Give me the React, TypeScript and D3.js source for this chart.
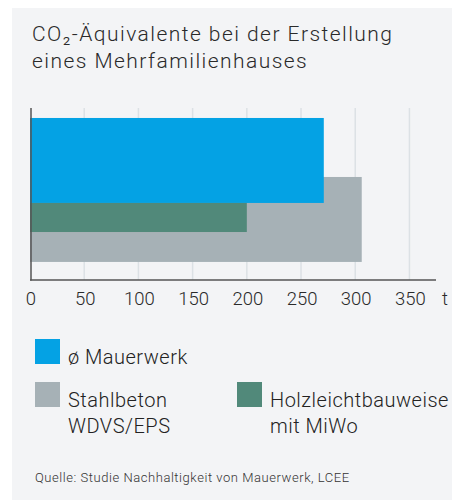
import React from 'react';
import * as d3 from 'd3';

// data
const seriesNames = ['Stahlbeton WDVS/EPS', 'ø Mauerwerk', 'Holzleichtbauweise mit MiWo'];
const seriesValues = [306, 271, 200];
const seriesColors = ['#a6b1b6', '#04a2e4', '#51897a'];
const xTicks = [0, 50, 100, 150, 200, 250, 300, 350];
const unitLabel = 't';
const titleLines = ['CO₂-Äquivalente bei der Erstellung', 'eines Mehrfamilienhauses'];
const sourceText = 'Quelle: Studie Nachhaltigkeit von Mauerwerk, LCEE';

const W = 453;
const H = 501;
const font = 'Roboto, "Open Sans", sans-serif';

const App = () => {
  const plot = { left: 30, right: 436, top: 108, bottom: 280 };
  const x = d3.scaleLinear().domain([0, 374.5]).range([plot.left, plot.right]);
  const y = d3.scaleLinear().domain([0, 1]).range([plot.top, plot.bottom]);

  // vertical slot of each bar as a fraction of the plot height (overlapping layout)
  const slots: Record<string, [number, number]> = {
    'Stahlbeton WDVS/EPS': [0.401, 0.895],
    'ø Mauerwerk': [0.058, 0.552],
    'Holzleichtbauweise mit MiWo': [0.552, 0.721],
  };

  const legend = [
    { name: seriesNames[1], lines: ['ø Mauerwerk'], x: 35, y: 339 },
    { name: seriesNames[0], lines: ['Stahlbeton', 'WDVS/EPS'], x: 35, y: 382 },
    { name: seriesNames[2], lines: ['Holzleichtbauweise', 'mit MiWo'], x: 237, y: 382 },
  ];
  const color = d3.scaleOrdinal<string, string>().domain(seriesNames).range(seriesColors);

  return (
    <svg width={W} height={H} style={{ position: 'absolute', left: 0, top: 0 }} fontFamily={font}>
      <rect x={12} y={8} width={440} height={492} fill="#f3f4f6" />

      {titleLines.map((t, i) => (
        <text key={i} x={32} y={41 + i * 26.5} fontSize={21} fontWeight={300} letterSpacing={1.45} fill="#2a2a2a">
          {t}
        </text>
      ))}

      {/* grid */}
      {xTicks.filter(t => t > 0).map(t => (
        <line key={t} x1={x(t)} x2={x(t)} y1={plot.top} y2={plot.bottom} stroke="#dce1e5" strokeWidth={1.5} />
      ))}

      {/* bars */}
      {seriesNames.map((name, i) => (
        <rect
          key={name}
          x={x(0)}
          y={y(slots[name][0])}
          width={x(seriesValues[i]) - x(0)}
          height={y(slots[name][1]) - y(slots[name][0])}
          fill={color(name)}
        />
      ))}

      {/* axes */}
      <line x1={plot.left + 1} x2={plot.left + 1} y1={plot.top} y2={plot.bottom + 0.5} stroke="#555" strokeWidth={1.5} />
      <line x1={plot.left} x2={plot.right} y1={plot.bottom} y2={plot.bottom} stroke="#555" strokeWidth={1.5} />

      {xTicks.map(t => (
        <text key={t} x={x(t) + 1} y={305} textAnchor="middle" fontSize={18.5} fontWeight={300} fill="#2a2a2a">
          {t}
        </text>
      ))}
      <text x={445} y={305} textAnchor="middle" fontSize={18.5} fontWeight={300} fill="#2a2a2a">
        {unitLabel}
      </text>

      {/* legend */}
      {legend.map(l => (
        <g key={l.name}>
          <rect x={l.x} y={l.y} width={25} height={25} fill={color(l.name)} />
          {l.lines.map((ln, j) => (
            <text key={j} x={l.x + 33} y={l.y + 25 + j * 26} fontSize={20} fontWeight={300} letterSpacing={0.5} fill="#222">
              {ln}
            </text>
          ))}
        </g>
      ))}

      <text x={35} y={482} fontSize={13} fontWeight={300} letterSpacing={0.55} fill="#333">
        {sourceText}
      </text>
    </svg>
  );
};

export default App;
